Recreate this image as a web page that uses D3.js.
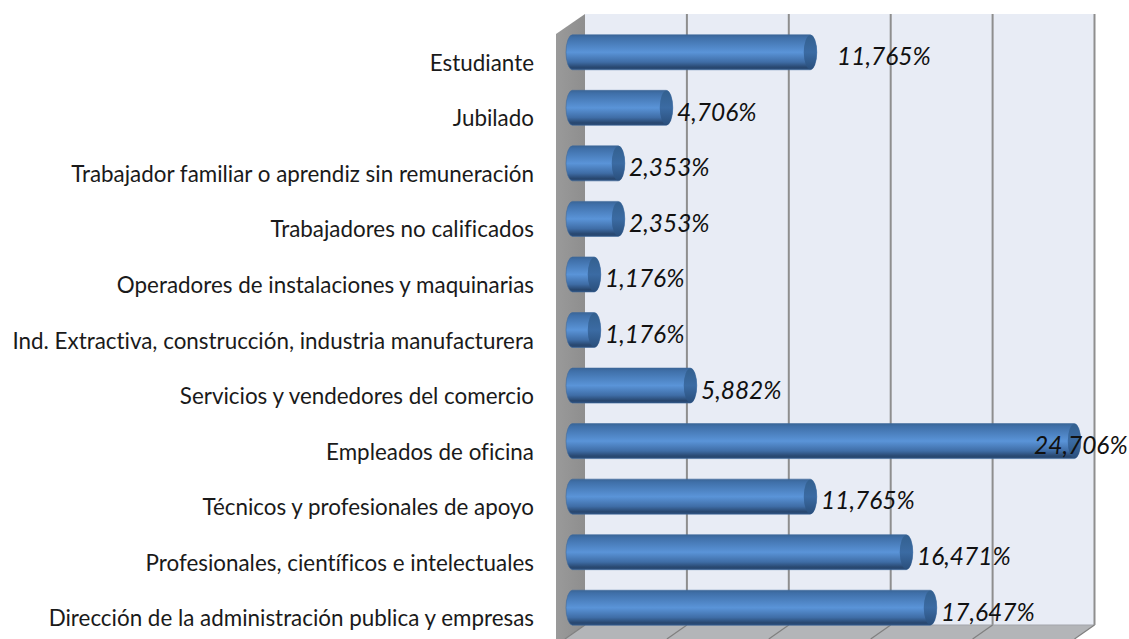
<!DOCTYPE html>
<html><head><meta charset="utf-8">
<script src="https://cdn.jsdelivr.net/npm/d3@7/dist/d3.min.js"></script>
<style>html,body{margin:0;padding:0;background:#fff;overflow:hidden}svg{display:block}text{font-variant-ligatures:none}</style>
</head><body><div id="chart"></div>
<script>
const categories = ["Estudiante","Jubilado","Trabajador familiar o aprendiz sin remuneración","Trabajadores no calificados","Operadores de instalaciones y maquinarias","Ind. Extractiva, construcción, industria manufacturera","Servicios y vendedores del comercio","Empleados de oficina","Técnicos y profesionales de apoyo","Profesionales, científicos e intelectuales","Dirección de la administración publica y empresas"];
const values = [11.765,4.706,2.353,2.353,1.176,1.176,5.882,24.706,11.765,16.471,17.647];
const gridTicks = [0,5,10,15,20,25];

const W=1129,H=639;
const svg=d3.select("#chart").append("svg").attr("width",W).attr("height",H);
const defs=svg.append("defs");
function grad(id,stops,x2,y2){
  const g=defs.append("linearGradient").attr("id",id).attr("x1",0).attr("y1",0).attr("x2",x2).attr("y2",y2);
  stops.forEach(s=>g.append("stop").attr("offset",s[0]).attr("stop-color",s[1]));
}
grad("body",[[0,"#3a6596"],[0.08,"#3f6fa8"],[0.5,"#5a94d8"],[0.78,"#3f6da6"],[0.93,"#28476f"],[1,"#2c4f7c"]],0,1);
grad("cap",[[0,"#33608f"],[0.5,"#3b6ba3"],[1,"#2a4f7c"]],0,1);
grad("side",[[0,"#9a9a9a"],[1,"#8e8e8e"]],1,0);

const wallTop=14,wallBottom=625,depthX=29,depthY=20;
const xBack=d3.scaleLinear().domain([0,25]).range([585,1094.5]);
const xBar=d3.scaleLinear().domain([0,25]).range([566,1076]);
const y=d3.scaleBand().domain(categories).range([24.5,635.5]).paddingInner(0.37).paddingOuter(0.185);
const barH=35;

// walls
const line=d3.line();
svg.append("rect").attr("x",xBack(0)).attr("y",wallTop).attr("width",xBack(25)-xBack(0)).attr("height",wallBottom-wallTop).attr("fill","#e8ecf5");
svg.append("path").attr("d",line([[xBack(0)-depthX,wallTop+depthY],[xBack(0),wallTop],[xBack(0),wallBottom],[xBack(0)-20,H],[xBack(0)-depthX,H]])).attr("fill","url(#side)");
svg.append("path").attr("d",line([[xBack(0),wallBottom],[xBack(25),wallBottom],[xBack(25)-20,H],[xBack(0)-20,H]])).attr("fill","#b3b5b8");

// grid
svg.selectAll("line.grid").data(gridTicks.slice(1)).join("line").attr("class","grid")
  .attr("x1",d=>xBack(d)).attr("x2",d=>xBack(d)).attr("y1",wallTop).attr("y2",wallBottom)
  .attr("stroke","#8e8e8e").attr("stroke-width",2);
svg.append("line").attr("x1",xBack(0)).attr("x2",xBack(25)).attr("y1",wallBottom).attr("y2",wallBottom).attr("stroke","#a3a5aa").attr("stroke-width",1);
svg.selectAll("line.floor").data(gridTicks).join("line").attr("class","floor")
  .attr("x1",d=>xBack(d)).attr("x2",d=>xBack(d)-20).attr("y1",wallBottom).attr("y2",H)
  .attr("stroke","#7f7f7f").attr("stroke-width",1.2);

// bars
const rows=categories.map((c,i)=>({c,v:values[i]}));
const g=svg.selectAll("g.bar").data(rows).join("g").attr("class","bar");
const capR=6.5;
g.append("path").attr("fill","url(#body)").attr("stroke","#3f6a9c").attr("stroke-width",0.6)
 .attr("d",d=>{
   const t=y(d.c),b=t+barH,l=xBar(0)+capR,r=xBar(d.v)+capR/2+1;
   return `M${l},${t}L${r},${t}A${capR},${barH/2} 0 0 1 ${r},${b}L${l},${b}A${capR},${barH/2} 0 0 1 ${l},${t}Z`;
 });
g.append("ellipse").attr("fill","url(#cap)")
 .attr("cx",d=>xBar(d.v)+capR/2+1).attr("cy",d=>y(d.c)+barH/2).attr("rx",capR).attr("ry",barH/2-0.5);

// category labels
const font="Lato, Carlito, 'Open Sans', sans-serif";
svg.selectAll("text.cat").data(rows).join("text").attr("class","cat")
  .attr("x",534).attr("y",d=>y(d.c)+barH/2+18.5)
  .attr("text-anchor","end").attr("font-family",font).attr("font-size",22.4).attr("fill","#1a1a1a")
  .text(d=>d.c);

// value labels
const fmt=v=>v.toFixed(3).replace(".",",")+"%";
svg.selectAll("text.val").data(rows).join("text").attr("class","val")
  .attr("x",(d,i)=>xBar(d.v)+(i===7?-36:(i===0?31:15)))
  .attr("y",(d,i)=>y(d.c)+barH/2+(i===8?12:13))
  .attr("font-family",font).attr("font-style","italic").attr("font-size",24.5).attr("fill","#111")
  .text(d=>fmt(d.v));
</script></body></html>
